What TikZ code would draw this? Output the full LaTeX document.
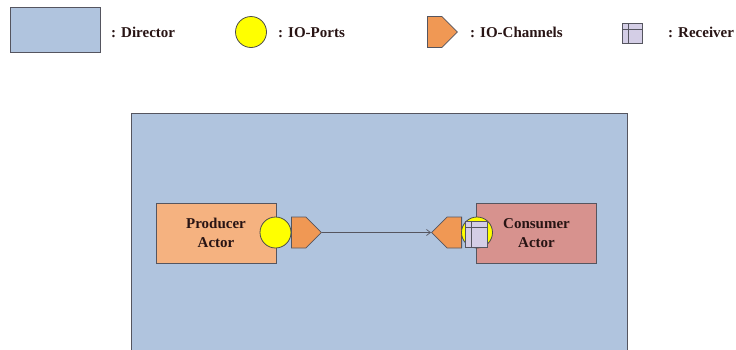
\documentclass[tikz,border=0pt]{standalone}
\usepackage{fontspec}
\setmainfont{Liberation Serif}
\usepackage{tikz}
\usetikzlibrary{
  shapes.geometric, shapes.symbols,
  arrows.meta,
  positioning, calc
}
\definecolor{dirblue}{RGB}{176,196,222}
\definecolor{prodorange}{RGB}{245,178,128}
\definecolor{consred}{RGB}{215,146,142}
\definecolor{chanorange}{RGB}{240,152,84}
\definecolor{portyellow}{RGB}{255,255,0}
\definecolor{recvlilac}{RGB}{212,206,230}
\definecolor{edgegray}{RGB}{85,85,95}
\definecolor{txtdark}{RGB}{40,20,20}
\tikzset{
  basebox/.style={rectangle,draw=edgegray,line width=0.9pt,inner sep=0pt,align=center},
  dirnode/.style={basebox,fill=dirblue},
  actornode/.style={basebox,minimum width=120pt,minimum height=60pt,font=\fontsize{15}{18.3}\selectfont\bfseries,text=txtdark},
  portnode/.style={circle,draw=black!70,fill=portyellow,line width=0.8pt,minimum size=31pt,inner sep=0pt},
  chanbase/.style={signal,fill=chanorange,draw=edgegray,line width=0.8pt,minimum width=30pt,minimum height=31pt,inner sep=0pt,signal pointer angle=90},
  chanright/.style={chanbase,signal to=east},
  chanleft/.style={chanbase,signal to=west},
  recvnode/.style={rectangle,draw=edgegray,fill=recvlilac,line width=0.8pt,inner sep=0pt,
    path picture={
      \draw[edgegray,line width=0.8pt] ([yshift=-6pt]path picture bounding box.north west) -- ([yshift=-6pt]path picture bounding box.north east);
      \draw[edgegray,line width=0.8pt] ([xshift=6pt]path picture bounding box.north west) -- ([xshift=6pt]path picture bounding box.south west);
    }},
  legtext/.style={anchor=base west,font=\fontsize{15}{18}\selectfont\bfseries,text=txtdark,inner sep=0pt},
  link/.style={-{Straight Barb[length=4pt,width=6pt]},line width=0.7pt,draw=edgegray}
}

\begin{document}
\begin{tikzpicture}[x=1pt,y=-1pt]
  \useasboundingbox (0,0) rectangle (736,349);
  \clip (0,0) rectangle (736,349);

  %% Legend row
  \node[dirnode,minimum width=90pt,minimum height=45pt] (legDir) at (55,29.5) {};
  \node[legtext] (legDirTxt) at (111,37) {: Director};
  \node[portnode] (legPort) at (251,32) {};
  \node[legtext] (legPortTxt) at (278,37) {: IO-Ports};
  \node[chanright,anchor=west] (legChan) at (427,32) {};
  \node[legtext] (legChanTxt) at (470,37) {: IO-Channels};
  \node[recvnode,minimum width=20pt,minimum height=20pt] (legRecv) at (632,33) {};
  \node[legtext] (legRecvTxt) at (668,37) {: Receiver};

  %% Director
  \node[dirnode,minimum width=496pt,minimum height=250pt,anchor=north west] (dir) at (131,113) {};

  %% Producer side
  \node[actornode,fill=prodorange] (prod) at (216,233) {Producer\\Actor};
  \node[portnode] (prodPort) at (275.5,232.5) {};
  \node[chanright,anchor=west] (prodChan) at (291,232.5) {};

  %% Consumer side
  \node[actornode,fill=consred] (cons) at (536.5,233) {Consumer\\Actor};
  \node[chanleft,anchor=east] (consChan) at (462,232.5) {};
  \node[portnode] (consPort) at (477,232.5) {};
  \node[recvnode,minimum width=22pt,minimum height=26pt] (consRecv) at (476,234) {};

  %% Channel link
  \draw[link] (prodChan.east) -- (consChan.west);
\end{tikzpicture}
\end{document}
